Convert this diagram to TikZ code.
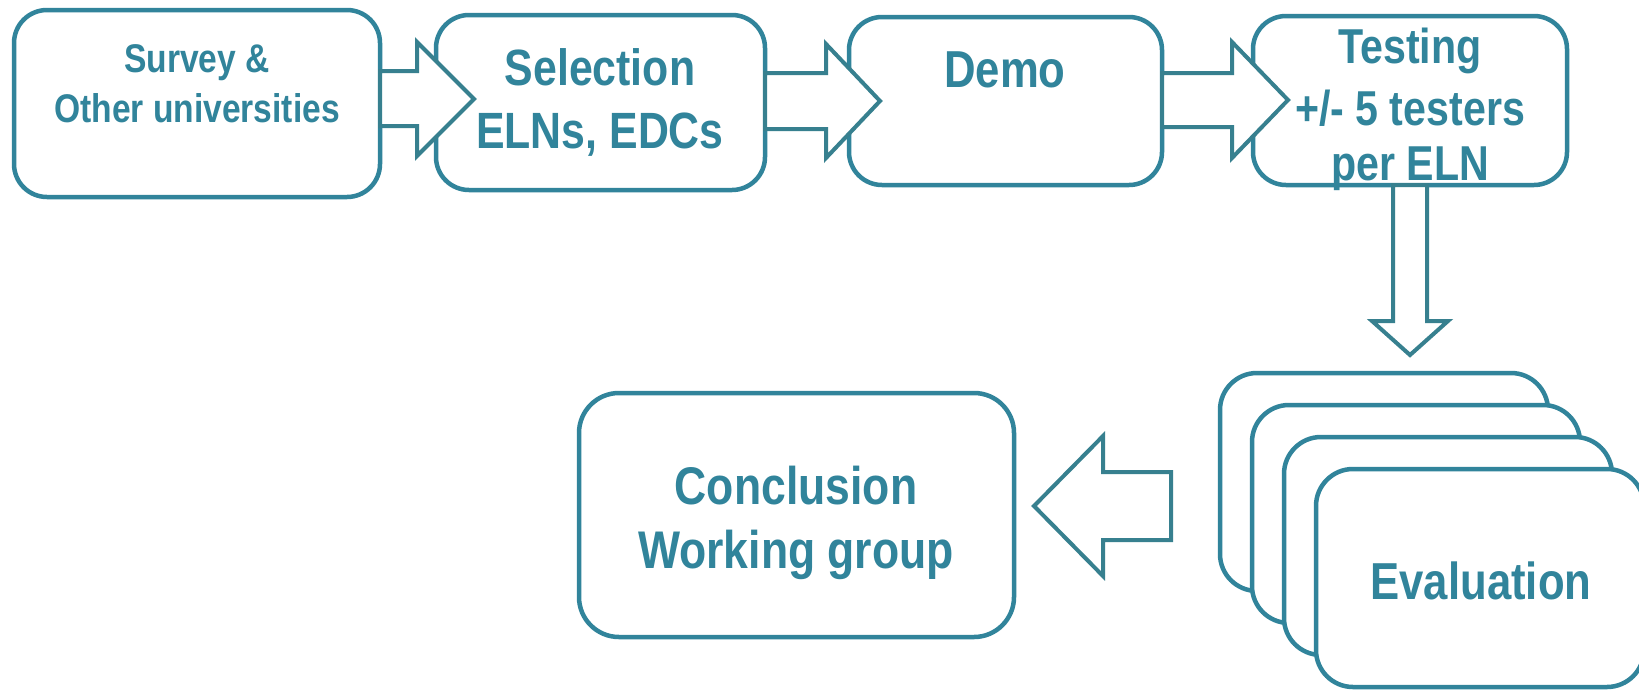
\documentclass[tikz,border=0pt]{standalone}
\usepackage{fontspec}
\setmainfont{Liberation Sans}[FakeStretch=0.84]
\definecolor{mainteal}{HTML}{31849B}
\definecolor{arrteal}{HTML}{37808F}
\begin{document}
\begin{tikzpicture}[x=1pt,y=-1pt,
  box/.style={draw=mainteal, line width=4.5pt, rounded corners=33pt, fill=white, inner sep=0pt},
  card/.style={box, rounded corners=37pt, minimum width=328pt, minimum height=218pt},
  barrow/.style={draw=arrteal, line width=4pt, fill=white, line join=miter},
  lbl/.style={text=mainteal, anchor=base, inner sep=0pt, font=\bfseries\fontsize{#1}{#1}\selectfont}]
\useasboundingbox (0,0) rectangle (1639,689);
\fill[white] (0,0) rectangle (1639,689);
% top row boxes
\node[box, minimum width=366pt, minimum height=187pt] (b1) at (197,103.5) {};
\node[box, minimum width=329pt, minimum height=175pt] (b2) at (600.5,102.5) {};
\node[box, minimum width=313pt, minimum height=168pt] (b3) at (1005.5,101) {};
\node[box, minimum width=314pt, minimum height=169pt] (b4) at (1410,100.5) {};
% stacked evaluation cards
\node[card] (c1) at (1384,482) {};
\node[card] (c2) at (1416,514) {};
\node[card] (c3) at (1448,546) {};
\node[card] (c4) at (1480,578) {};
% conclusion
\node[box, rounded corners=40pt, minimum width=435pt, minimum height=244pt] (cw) at (796.5,515) {};
% block arrows
\draw[barrow] (380,71) -- (417,71) -- (417,42) -- (474,99) -- (417,156) -- (417,126) -- (380,126) -- cycle;
\draw[barrow] (765,73) -- (826,73) -- (826,44) -- (880,101) -- (826,158) -- (826,129) -- (765,129) -- cycle;
\draw[barrow] (1162,73) -- (1232,73) -- (1232,42) -- (1288,100) -- (1232,158) -- (1232,127) -- (1162,127) -- cycle;
\draw[barrow] (1393,185) -- (1393,321) -- (1372,321) -- (1410,355) -- (1448,321) -- (1427,321) -- (1427,185) -- cycle;
\draw[barrow] (1171,472) -- (1103,472) -- (1103,436) -- (1034,506) -- (1103,576) -- (1103,540) -- (1171,540) -- cycle;
% texts
\node[lbl=40] (t1a) at (197,72) {Survey \&};
\node[lbl=40] (t1b) at (197,122) {Other universities};
\node[lbl=51] (t2a) at (600,85) {Selection};
\node[lbl=51] (t2b) at (600,148) {ELNs, EDCs};
\node[lbl=52] (t3) at (1005,87) {Demo};
\node[lbl=49] (t4a) at (1410,63) {Testing};
\node[lbl=49] (t4b) at (1410,125) {+/- 5 testers};
\node[lbl=49] (t4c) at (1410,180) {per ELN};
\node[lbl=52] (t5) at (1481,599) {Evaluation};
\node[lbl=53] (t6a) at (796,504) {Conclusion};
\node[lbl=53] (t6b) at (796,568) {Working group};
\end{tikzpicture}
\end{document}
